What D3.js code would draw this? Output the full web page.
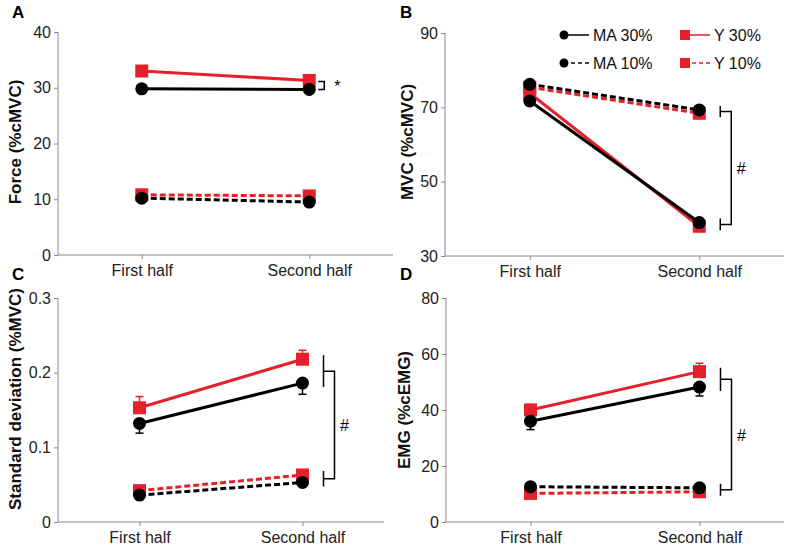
<!DOCTYPE html>
<html><head><meta charset="utf-8">
<script src="https://cdn.jsdelivr.net/npm/d3@7"></script>
<style>body{margin:0;background:#fff}svg{display:block;font-family:"Liberation Sans",Arial,sans-serif}</style>
</head><body><svg id="c" width="788" height="551"></svg>
<script>
const categories = ["First half", "Second half"];
const seriesNames = ["MA 30%", "Y 30%", "MA 10%", "Y 10%"];

// Panel A: Force
const forceTicks = [0, 10, 20, 30, 40];
const forceMA30 = [29.8, 29.7];
const forceY30 = [33.0, 31.3];
const forceMA10 = [10.2, 9.5];
const forceY10 = [10.8, 10.6];

// Panel B: MVC
const mvcTicks = [30, 50, 70, 90];
const mvcMA30 = [71.7, 39.0];
const mvcY30 = [73.8, 38.0];
const mvcMA10 = [76.2, 69.3];
const mvcY10 = [75.4, 68.4];

// Panel C: Standard deviation
const sdTicks = [0, 0.1, 0.2, 0.3];
const sdMA30 = [0.132, 0.186];
const sdY30 = [0.153, 0.218];
const sdMA10 = [0.036, 0.053];
const sdY10 = [0.042, 0.063];
const sdMA30Err = [0.013, 0.015];
const sdY30Err = [0.015, 0.012];

// Panel D: EMG
const emgTicks = [0, 20, 40, 60, 80];
const emgMA30 = [36.0, 48.2];
const emgY30 = [40.0, 53.7];
const emgMA10 = [12.6, 12.2];
const emgY10 = [10.2, 10.8];
const emgMA30Err = [3.0, 3.2];
const emgY30Err = [2.0, 3.0];

const RED = "#e5202a", BLACK = "#000";
const svg = d3.select("#c");

const panels = [
  {letter:"A", lx:12, ly:18, label:"Force (%cMVC)", labX:15, labY:142, x0:58, x1:393, y0:255, y1:32,
   domain:[0,40], ticks:forceTicks, fmt:d3.format("d"),
   s:{ma30:forceMA30, y30:forceY30, ma10:forceMA10, y10:forceY10}, type:"star"},
  {letter:"B", lx:400, ly:18, label:"MVC (%cMVC)", labX:407, labY:142, x0:445, x1:784, y0:256, y1:33,
   domain:[30,90], ticks:mvcTicks, fmt:d3.format("d"),
   s:{ma30:mvcMA30, y30:mvcY30, ma10:mvcMA10, y10:mvcY10}, type:"hash", legend:true},
  {letter:"C", lx:12, ly:280, label:"Standard deviation (%MVC)", labX:15, labY:399, x0:58, x1:384, y0:522, y1:298,
   domain:[0,0.3], ticks:sdTicks, fmt:d => d===0?"0":d3.format(".1f")(d),
   s:{ma30:sdMA30, y30:sdY30, ma10:sdMA10, y10:sdY10, ma30e:sdMA30Err, y30e:sdY30Err}, type:"hash"},
  {letter:"D", lx:400, ly:280, label:"EMG (%cEMG)", labX:404, labY:410, x0:446, x1:784, y0:522, y1:298,
   domain:[0,80], ticks:emgTicks, fmt:d3.format("d"),
   s:{ma30:emgMA30, y30:emgY30, ma10:emgMA10, y10:emgY10, ma30e:emgMA30Err, y30e:emgY30Err}, type:"hash"}
];

panels.forEach(p => {
  const g = svg.append("g");
  const x = d3.scalePoint().domain(categories).range([p.x0, p.x1]).padding(0.5);
  const y = d3.scaleLinear().domain(p.domain).range([p.y0, p.y1]);

  const ya = g.append("g").attr("transform", `translate(${p.x0},0)`)
    .call(d3.axisLeft(y).tickValues(p.ticks).tickFormat(p.fmt).tickSize(4).tickPadding(3));
  const xa = g.append("g").attr("transform", `translate(0,${p.y0})`)
    .call(d3.axisBottom(x).tickSize(4).tickPadding(6));
  [ya, xa].forEach(a => {
    a.select(".domain").attr("stroke", "#8a8a8a").attr("stroke-width", 1);
    a.selectAll(".tick line").attr("stroke", "#8a8a8a");
    a.selectAll(".tick text").attr("fill", "#222").style("font-size", "16px")
      .style("font-family", '"Liberation Sans",Arial,sans-serif');
  });
  ya.select(".domain").attr("d", `M0,${p.y0}V${p.y1}`);
  xa.select(".domain").attr("d", `M${p.x0},0H${p.x1}`);

  g.append("text").attr("x", p.lx).attr("y", p.ly).text(p.letter)
    .style("font-weight", "bold").style("font-size", "17px");
  g.append("text").attr("transform", `translate(${p.labX + 6},${p.labY}) rotate(-90)`)
    .attr("text-anchor", "middle").style("font-weight", "bold").style("font-size", "17px")
    .attr("fill", "#111").text(p.label);

  const line = d3.line().x((d, i) => x(categories[i])).y(d => y(d));
  const order = [
    {k:"y10", c:RED, dash:"6,3", m:"sq"},
    {k:"y30", c:RED, dash:null, m:"sq", e:"y30e", dir:-1},
    {k:"ma10", c:BLACK, dash:"6,3", m:"ci"},
    {k:"ma30", c:BLACK, dash:null, m:"ci", e:"ma30e", dir:1}
  ];
  order.forEach(o => {
    const vals = p.s[o.k];
    if (o.e && p.s[o.e]) {
      const errs = p.s[o.e];
      vals.forEach((v, i) => {
        const cx = x(categories[i]);
        const v2 = o.dir < 0 ? v + errs[i] : v - errs[i];
        g.append("line").attr("x1", cx).attr("x2", cx).attr("y1", y(v)).attr("y2", y(v2))
          .attr("stroke", o.c).attr("stroke-width", 1.5);
        g.append("line").attr("x1", cx - 4).attr("x2", cx + 4).attr("y1", y(v2)).attr("y2", y(v2))
          .attr("stroke", o.c).attr("stroke-width", 1.5);
      });
    }
    g.append("path").datum(vals).attr("d", line).attr("fill", "none")
      .attr("stroke", o.c).attr("stroke-width", 3).attr("stroke-dasharray", o.dash);
    vals.forEach((v, i) => {
      const cx = x(categories[i]), cy = y(v);
      if (o.m === "sq") g.append("rect").attr("x", cx - 6.5).attr("y", cy - 6.5)
        .attr("width", 13).attr("height", 13).attr("fill", o.c);
      else g.append("circle").attr("cx", cx).attr("cy", cy).attr("r", 6.5).attr("fill", o.c);
    });
  });

  // significance markers
  const x2 = x(categories[1]);
  const br = g.append("g").attr("fill", "none").attr("stroke", "#000").attr("stroke-width", 1.5);
  if (p.type === "star") {
    const ya1 = y(p.s.y30[1]) + 1, ya2 = y(p.s.ma30[1]);
    br.append("path").attr("d", `M${x2 + 9},${ya1}H${x2 + 15}V${ya2}H${x2 + 9}`);
    g.append("text").attr("x", x2 + 28).attr("y", (ya1 + ya2) / 2 + 7).attr("text-anchor", "middle")
      .style("font-size", "16px").text("*");
  } else {
    const top = [p.s.y30[1], p.s.ma30[1], p.s.y10[1], p.s.ma10[1]];
    const hi = [y(Math.max(top[0], top[1])) - 4, y(Math.min(top[0], top[1])) + 4];
    const lo = [y(Math.max(top[2], top[3])) - 4, y(Math.min(top[2], top[3])) + 4];
    const cx = x2 + 21, ax = cx + 11;
    const hm = (hi[0] + hi[1]) / 2, lm = (lo[0] + lo[1]) / 2;
    const upper = hm < lm ? hi : lo, lower = hm < lm ? lo : hi;
    const um = (upper[0] + upper[1]) / 2, lmm = (lower[0] + lower[1]) / 2;
    br.append("path").attr("d", `M${cx},${upper[0]}V${upper[1]}M${cx},${um}H${ax}V${lmm}H${cx}M${cx},${lower[0]}V${lower[1]}`);
    g.append("text").attr("x", ax + 10).attr("y", (um + lmm) / 2 + 6).attr("text-anchor", "middle")
      .style("font-size", "16px").text("#");
  }

  if (p.legend) {
    const L = g.append("g");
    const items = [
      {n:seriesNames[0], c:BLACK, dash:null, m:"ci", x:564, y:35},
      {n:seriesNames[1], c:RED, dash:null, m:"sq", x:685, y:35},
      {n:seriesNames[2], c:BLACK, dash:"4,3", m:"ci", x:564, y:63},
      {n:seriesNames[3], c:RED, dash:"4,3", m:"sq", x:685, y:63}
    ];
    items.forEach(it => {
      L.append("line").attr("x1", it.x).attr("x2", it.x + 25).attr("y1", it.y).attr("y2", it.y)
        .attr("stroke", it.c).attr("stroke-width", 1.5).attr("stroke-dasharray", it.dash);
      if (it.m === "ci") L.append("circle").attr("cx", it.x).attr("cy", it.y).attr("r", 4.5).attr("fill", it.c);
      else L.append("rect").attr("x", it.x - 5).attr("y", it.y - 5).attr("width", 10).attr("height", 10).attr("fill", it.c);
      L.append("text").attr("x", it.x + 29).attr("y", it.y + 6).style("font-size", "16px").attr("fill", "#111").text(it.n);
    });
  }
});
</script></body></html>
